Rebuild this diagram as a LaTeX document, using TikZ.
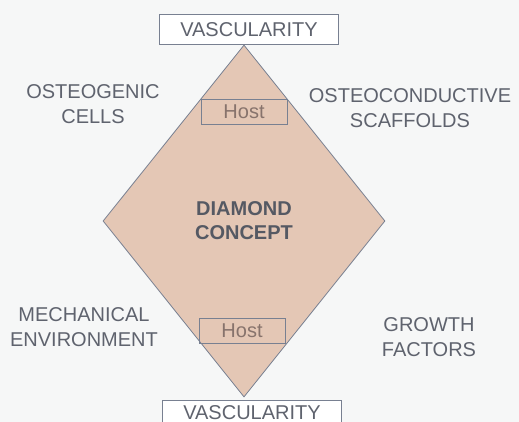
\documentclass[tikz,border=0pt]{standalone}
\usepackage{fontspec}
\setmainfont{Liberation Sans}
\definecolor{labelgray}{RGB}{95, 99, 110}
\definecolor{linegray}{RGB}{120, 128, 145}
\definecolor{diamondfill}{RGB}{228, 199, 181}
\definecolor{hosttext}{RGB}{135, 115, 108}
\definecolor{paperbg}{RGB}{246, 247, 247}
\usetikzlibrary{shapes.geometric, positioning}

\begin{document}
\begin{tikzpicture}[
  x=1pt, y=-1pt,
  label/.style={align=center, text=labelgray, font=\fontsize{20}{25}\selectfont},
  core/.style={diamond, draw=linegray, fill=diamondfill, line width=0.8pt,
               minimum width=282pt, minimum height=352pt, align=center,
               text=labelgray!90!black, font=\bfseries\fontsize{20}{24}\selectfont},
  vasc/.style={rectangle, draw=linegray, fill=white, line width=0.8pt,
               minimum width=179pt, minimum height=30pt, inner sep=0pt,
               text=labelgray, font=\fontsize{20}{24}\selectfont},
  hostbox/.style={rectangle, draw=linegray, line width=0.8pt,
                  minimum width=86pt, minimum height=25pt, inner sep=0pt,
                  text=hosttext, font=\fontsize{20}{24}\selectfont}
]
  \fill[paperbg] (0,0) rectangle (519,422);
  \useasboundingbox (0,0) rectangle (519,422);

  \node[core] (concept) at (244,221) {DIAMOND\\CONCEPT};

  \node[vasc, above=0pt of concept.north, xshift=5pt] (vastop) {VASCULARITY};
  \node[vasc, below=3pt of concept.south, xshift=8pt, minimum height=24pt] (vasbot) {VASCULARITY};
  \node[hostbox, below=54pt of concept.north] (hosttop) {Host};
  \node[hostbox, above=54pt of concept.south, xshift=-2pt] (hostbot) {Host};

  \node[label] (cells) at (93,104) {OSTEOGENIC\\CELLS};
  \node[label] (scaffolds) at (410,108) {OSTEOCONDUCTIVE\\SCAFFOLDS};
  \node[label] (mech) at (84,327) {MECHANICAL\\ENVIRONMENT};
  \node[label] (growth) at (429,337) {GROWTH\\FACTORS};
\end{tikzpicture}
\end{document}
